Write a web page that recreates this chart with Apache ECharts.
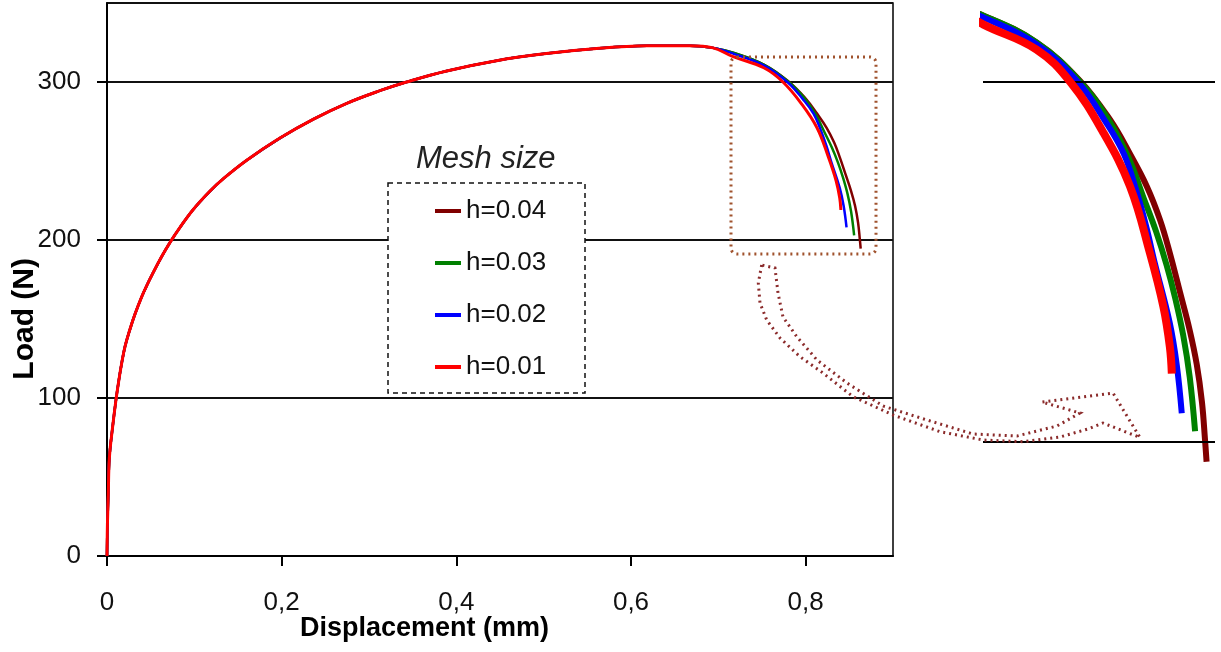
<!DOCTYPE html>
<html>
<head>
<meta charset="utf-8">
<script src="https://cdn.jsdelivr.net/npm/echarts@6/dist/echarts.min.js"></script>
<style>html,body{margin:0;padding:0;background:#fff}#c{width:1221px;height:652px}</style>
</head>
<body>
<div id="c"></div>
<script>
// ---- data ----
var seriesNames = ['h=0.04', 'h=0.03', 'h=0.02', 'h=0.01'];
var xTickLabels = ['0', '0,2', '0,4', '0,6', '0,8'];
var yTickLabels = ['0', '100', '200', '300'];

// rising part shared by all meshes
var dispRise = [0, 0.0005, 0.0015, 0.0027, 0.0065, 0.0103, 0.0135, 0.0165, 0.0206, 0.0263, 0.032, 0.0397, 0.0454, 0.053, 0.0626, 0.0722, 0.0836, 0.099, 0.118, 0.1336, 0.16, 0.198, 0.2365, 0.2745, 0.3125, 0.343, 0.389, 0.446, 0.503, 0.5606, 0.618, 0.6675, 0.694];
var loadRise = [0, 20, 40, 62, 82, 99, 111, 121, 132.5, 143.5, 153, 164, 171, 179.5, 189.5, 198.5, 208, 219.5, 231, 239, 250.5, 264.5, 276.5, 286.5, 294.5, 300, 307, 313.5, 318, 321.2, 322.9, 323, 321.6];

// softening tails for each mesh size
var disp04 = [0.717, 0.752, 0.780, 0.800, 0.813, 0.824, 0.8326, 0.839, 0.8457, 0.852, 0.8566, 0.860, 0.862, 0.863];
var load04 = [318.5, 311, 300.5, 289.5, 280, 271, 261.7, 252.5, 241.5, 231, 221.5, 211, 200.5, 194.5];
var disp03 = [0.717, 0.752, 0.780, 0.799, 0.812, 0.8217, 0.830, 0.837, 0.8425, 0.8478, 0.852, 0.8555];
var load03 = [318.5, 311, 300.3, 289.5, 279, 268, 258.5, 249, 240, 229.5, 218, 203];
var disp02 = [0.717, 0.752, 0.779, 0.797, 0.809, 0.817, 0.8235, 0.8293, 0.839, 0.8435, 0.8468];
var load02 = [318, 310.5, 300, 289, 280, 270, 260, 249.5, 233, 221.5, 208];
var disp01 = [0.717, 0.752, 0.774, 0.7955, 0.813, 0.826, 0.8348, 0.839, 0.8403];
var load01 = [316, 309, 300, 286, 271, 252.5, 237.6, 226.5, 219];

var colors = ['#800000', '#008000', '#0000ff', '#ff0000'];

function build(dx, dy) {
  var out = dispRise.map(function (x, i) { return [x, loadRise[i]]; });
  return out.concat(dx.map(function (x, i) { return [x, dy[i]]; }));
}
var tails = [[disp04, load04], [disp03, load03], [disp02, load02], [disp01, load01]];
var datasets = tails.map(function (t) { return build(t[0], t[1]); });

var chart = echarts.init(document.getElementById('c'), null, { renderer: 'canvas' });

var series = [];
seriesNames.forEach(function (n, i) {
  series.push({
    name: n, type: 'line', xAxisIndex: 0, yAxisIndex: 0,
    data: datasets[i], showSymbol: false, smooth: 0.4,
    lineStyle: { color: colors[i], width: i === 3 ? 3 : 2.5 },
    itemStyle: { color: colors[i] }, z: 2 + i, animation: false
  });
});
seriesNames.forEach(function (n, i) {
  var s = {
    name: n, type: 'line', xAxisIndex: 1, yAxisIndex: 1,
    data: datasets[i], showSymbol: false, smooth: 0.4,
    lineStyle: { color: colors[i], width: i === 3 ? 8 : 6 },
    itemStyle: { color: colors[i] }, z: 2 + i, animation: false, clip: true
  };
  if (i === 0) {
    s.markLine = {
      silent: true, symbol: 'none', label: { show: false },
      lineStyle: { color: '#000', type: 'solid', width: 2 },
      data: [{ yAxis: 200 }, { yAxis: 300 }], animation: false
    };
  }
  series.push(s);
});

var dotted = '#a0522d';
var arrowCol = '#8b2b2b';
var arrowPts = [
  [761.7,265],[758.3,283],[760,303],[766.7,320],[780,338],[800,356.7],[823,373],[853,396.7],[893,415],[940,431.7],[983,440],[1023,441.7],[1060,437],[1088,429],[1103,423],[1140,437.5],
  [1113,393],[1042,402],[1080,413],[1057,426],[1017,436],[973,434],[927,420],[883,406],[847,383],[817,360],[797,337],[783,317],[778,293],[775,268],[761.7,265]
];

var option = {
  backgroundColor: '#fff',
  animation: false,
  grid: [
    { left: 107, top: 3, width: 786, height: 553, show: true, borderColor: '#000', borderWidth: 1.5, backgroundColor: 'transparent' },
    { left: 983, top: 10, width: 232, height: 468, show: false }
  ],
  legend: {
    data: seriesNames, orient: 'vertical', left: 435, top: 196, padding: 0,
    itemGap: 22, itemWidth: 26, itemHeight: 4, icon: 'rect',
    textStyle: { fontFamily: 'Liberation Sans, sans-serif', fontSize: 26, color: '#111', lineHeight: 30 },
    z: 10
  },
  xAxis: [
    {
      type: 'value', gridIndex: 0, min: 0, max: 0.9, interval: 0.2,
      axisLine: { show: true, lineStyle: { color: '#000', width: 2 } },
      axisTick: { show: true, inside: false, length: 10, lineStyle: { color: '#000', width: 2 } },
      splitLine: { show: false },
      axisLabel: {
        margin: 34, color: '#111', fontSize: 26, fontFamily: 'Liberation Sans, sans-serif',
        showMaxLabel: false,
        formatter: function (v) { var k = Math.round(v / 0.2); return k >= 0 && k < xTickLabels.length && Math.abs(v - k * 0.2) < 1e-6 ? xTickLabels[k] : ''; }
      }
    },
    { type: 'value', gridIndex: 1, min: 0.717, max: 0.8685, show: false, splitLine: { show: false } }
  ],
  yAxis: [
    {
      type: 'value', gridIndex: 0, min: 0, max: 350, interval: 100,
      axisLine: { show: true, lineStyle: { color: '#000', width: 2 } },
      axisTick: { show: true, inside: false, length: 10, lineStyle: { color: '#000', width: 2 } },
      splitLine: { show: true, lineStyle: { color: '#111', width: 2 } },
      axisLabel: {
        margin: 26, color: '#111', fontSize: 26, fontFamily: 'Liberation Sans, sans-serif',
        showMaxLabel: false,
        formatter: function (v) { var k = Math.round(v / 100); return k >= 0 && k < yTickLabels.length ? yTickLabels[k] : ''; }
      }
    },
    { type: 'value', gridIndex: 1, min: 190, max: 320, show: false, splitLine: { show: false } }
  ],
  graphic: [
    { type: 'rect', z: 3, shape: { x: 388, y: 183, width: 197, height: 210 },
      style: { fill: '#fff', stroke: '#111', lineWidth: 1.5, lineDash: [5, 4] } },
    { type: 'text', z: 5, left: 416, top: 144,
      style: { text: 'Mesh size', fill: '#222', font: 'italic 31px "Liberation Sans", sans-serif' } },
    { type: 'text', z: 5, left: 300, top: 615,
      style: { text: 'Displacement (mm)', fill: '#000', font: 'bold 27px "Liberation Sans", sans-serif' } },
    { type: 'text', z: 5, left: 10, top: 258, rotation: Math.PI / 2,
      style: { text: 'Load (N)', fill: '#000', font: 'bold 30px "Liberation Sans", sans-serif' } },
    { type: 'rect', z: 6, shape: { x: 731, y: 57, width: 145, height: 197, r: 6 },
      style: { fill: 'none', stroke: dotted, lineWidth: 3, lineDash: [2, 4] } },
    { type: 'polyline', z: 6, shape: { points: arrowPts, smooth: 0 },
      style: { fill: 'none', stroke: arrowCol, lineWidth: 3, lineDash: [2, 4] } }
  ],
  series: series
};
chart.setOption(option);
</script>
</body>
</html>
